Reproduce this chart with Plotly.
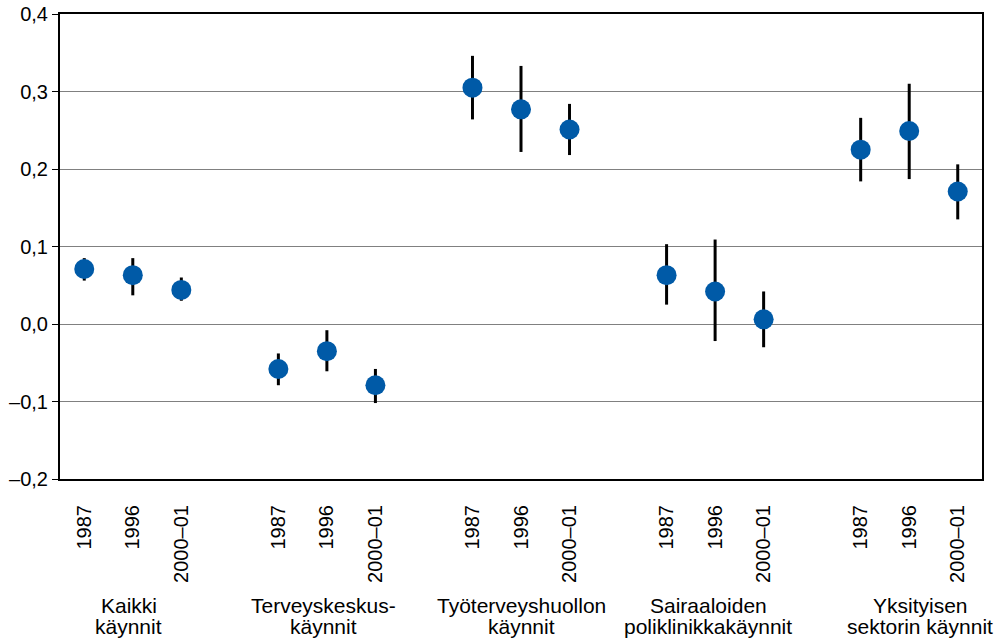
import plotly.graph_objects as go

groups = [["Kaikki", "käynnit"],
          ["Terveyskeskus-", "käynnit"],
          ["Työterveyshuollon", "käynnit"],
          ["Sairaaloiden", "poliklinikkakäynnit"],
          ["Yksityisen", "sektorin käynnit"]]
years = ["1987", "1996", "2000–01"]

values = [0.071, 0.063, 0.044,
          -0.058, -0.035, -0.079,
          0.305, 0.277, 0.251,
          0.063, 0.042, 0.006,
          0.225, 0.249, 0.171]
upper = [0.085, 0.085, 0.060,
         -0.038, -0.008, -0.058,
         0.346, 0.333, 0.284,
         0.103, 0.109, 0.042,
         0.266, 0.310, 0.206]
lower = [0.056, 0.037, 0.030,
         -0.079, -0.061, -0.102,
         0.264, 0.222, 0.218,
         0.025, -0.022, -0.030,
         0.184, 0.187, 0.135]

y_tickvals = [-0.2, -0.1, 0.0, 0.1, 0.2, 0.3, 0.4]
y_ticktext = ["–0,2", "–0,1", "0,0", "0,1", "0,2", "0,3", "0,4"]

# layout-only: horizontal nudges (px) of the group captions
label_xshift = [-4, -3, 0, -7, 11]

n_years = len(years)
xpos = [g * (n_years + 1) + i for g in range(len(groups)) for i in range(n_years)]
xtext = [y for _ in groups for y in years]
err_plus = [u - v for u, v in zip(upper, values)]
err_minus = [v - l for v, l in zip(values, lower)]

FONT = "Liberation Sans, Arial, sans-serif"

fig = go.Figure()
fig.add_trace(go.Scatter(
    x=xpos, y=values, mode="markers",
    marker=dict(size=20, color="#005AA7"),
    error_y=dict(type="data", symmetric=False, array=err_plus, arrayminus=err_minus,
                 color="black", thickness=3, width=0),
    showlegend=False, hoverinfo="skip",
))

for g, lines in enumerate(groups):
    cx = g * (n_years + 1) + (n_years - 1) / 2
    for k, line in enumerate(lines):
        fig.add_annotation(x=cx, y=0, xref="x", yref="paper", text=line,
                           showarrow=False, yanchor="middle", xanchor="center",
                           yshift=-126 - 21 * k, xshift=label_xshift[g],
                           font=dict(family=FONT, size=21, color="black"))

fig.update_layout(
    width=1002, height=640,
    margin=dict(l=60, r=20, t=14, b=161, autoexpand=False),
    paper_bgcolor="white", plot_bgcolor="white",
    font=dict(family=FONT, size=20, color="black"),
)
fig.update_xaxes(
    range=[-0.5, xpos[-1] + 0.5],
    tickvals=xpos, ticktext=xtext, tickangle=-90,
    ticks="outside", ticklen=16, tickcolor="rgba(0,0,0,0)",
    showgrid=False, zeroline=False, automargin=False,
    showline=True, linecolor="black", linewidth=2, mirror=True,
    tickfont=dict(family=FONT, size=20, color="black"),
)
fig.update_yaxes(
    range=[-0.2, 0.4], tickvals=y_tickvals, ticktext=y_ticktext,
    ticks="outside", ticklen=6, tickcolor="black", tickwidth=1,
    showgrid=True, gridcolor="#808080", gridwidth=1, zeroline=False, automargin=False,
    showline=True, linecolor="black", linewidth=2, mirror=True,
    tickfont=dict(family=FONT, size=20, color="black"),
)

fig.write_html("out.html",
               config={"displayModeBar": False, "staticPlot": True},
               post_script="document.body.style.margin='0';document.body.style.overflow='hidden';")
